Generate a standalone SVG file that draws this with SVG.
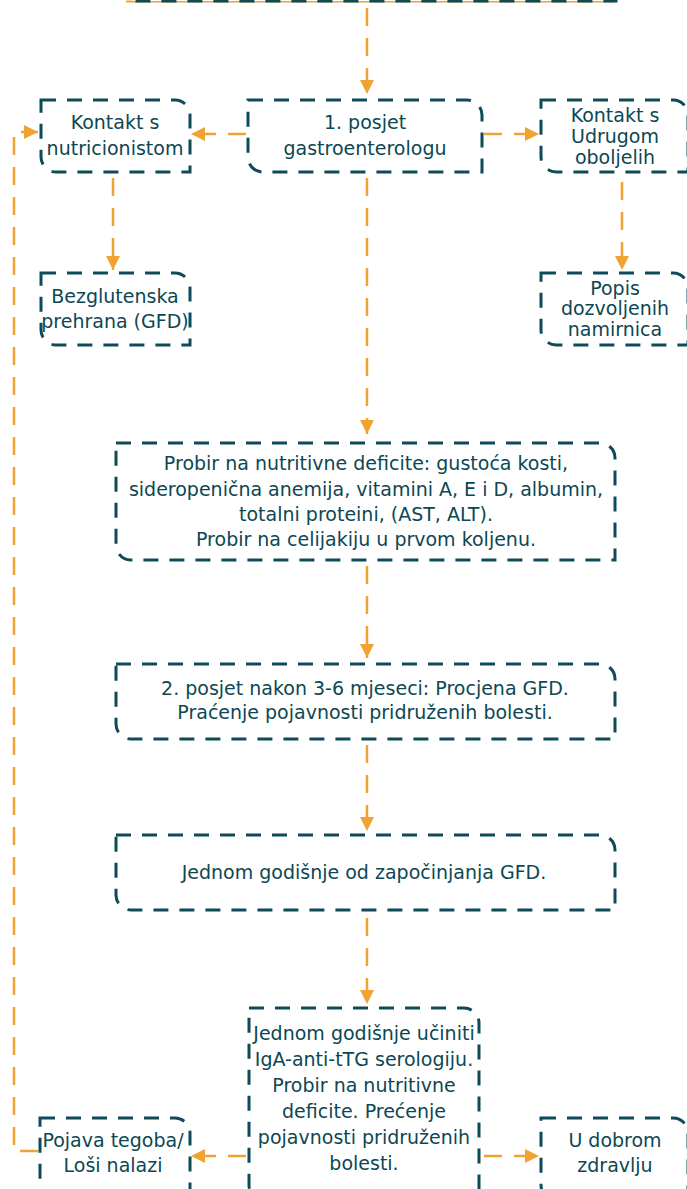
<svg xmlns="http://www.w3.org/2000/svg" width="687" height="1189" viewBox="0 0 687 1189">
<defs>
<style>
.box{fill:#ffffff;stroke:#0d4b58;stroke-width:3;stroke-dasharray:15 11;}
.lbl{font-family:"DejaVu Sans","Liberation Sans",sans-serif;font-size:19px;fill:#0c4753;text-anchor:middle;}
.con{fill:none;stroke:#f0a232;stroke-width:2.5;stroke-dasharray:18 12;}
</style>
<marker id="ah" viewBox="0 0 14 14" refX="14" refY="7" markerWidth="14" markerHeight="14" markerUnits="userSpaceOnUse" orient="auto">
<path d="M0,0 L14,7 L0,14 Z" fill="#f0a232"/>
</marker>
</defs>
<rect width="687" height="1189" fill="#ffffff"/>

<g id="connectors">
<path class="con" d="M367,8 V94" marker-end="url(#ah)"/>
<path class="con" d="M246,134 H191" marker-end="url(#ah)"/>
<path class="con" d="M484,134 H539" marker-end="url(#ah)"/>
<path class="con" d="M113,178 V270" marker-end="url(#ah)"/>
<path class="con" d="M622,182 V270" marker-end="url(#ah)"/>
<path class="con" d="M367,178 V434" marker-end="url(#ah)"/>
<path class="con" d="M367,566 V658" marker-end="url(#ah)"/>
<path class="con" d="M367,745 V831" marker-end="url(#ah)"/>
<path class="con" d="M367,918 V1004" marker-end="url(#ah)"/>
<path class="con" d="M246,1156 H191" marker-end="url(#ah)"/>
<path class="con" d="M484,1156 H539" marker-end="url(#ah)"/>
<path class="con" d="M38,1151 H14 V132 H38" marker-end="url(#ah)"/>
</g>

<g id="n0">
<line x1="126" y1="1.5" x2="614" y2="1.5" stroke="#f0a232" stroke-width="2"/>
<path class="box" d="M122,-60 H601 A15,15 0 0 1 616,-45 V1 H137 A15,15 0 0 1 122,-14 Z"/>
</g>

<g id="n1">
<path class="box" d="M248,100 H467 A15,15 0 0 1 482,115 V172 H263 A15,15 0 0 1 248,157 Z"/>
<text class="lbl" x="365"><tspan x="365" y="129">1. posjet</tspan><tspan x="365" y="155">gastroenterologu</tspan></text>
</g>

<g id="n2">
<path class="box" d="M41,100 H175 A15,15 0 0 1 190,115 V172 H56 A15,15 0 0 1 41,157 Z"/>
<text class="lbl" x="115"><tspan x="115" y="129">Kontakt s</tspan><tspan x="115" y="155">nutricionistom</tspan></text>
</g>

<g id="n3">
<path class="box" d="M541,100 H673 A15,15 0 0 1 688,115 V172 H556 A15,15 0 0 1 541,157 Z"/>
<text class="lbl" x="615"><tspan x="615" y="122">Kontakt s</tspan><tspan x="615" y="143">Udrugom</tspan><tspan x="615" y="164">oboljelih</tspan></text>
</g>

<g id="n4">
<path class="box" d="M41,273 H175 A15,15 0 0 1 190,288 V345 H56 A15,15 0 0 1 41,330 Z"/>
<text class="lbl" x="115"><tspan x="115" y="303">Bezglutenska</tspan><tspan x="115" y="328">prehrana (GFD)</tspan></text>
</g>

<g id="n5">
<path class="box" d="M541,273 H673 A15,15 0 0 1 688,288 V345 H556 A15,15 0 0 1 541,330 Z"/>
<text class="lbl" x="615"><tspan x="615" y="295">Popis</tspan><tspan x="615" y="315">dozvoljenih</tspan><tspan x="615" y="336">namirnica</tspan></text>
</g>

<g id="n6">
<path class="box" d="M116,443 H600 A15,15 0 0 1 615,458 V560 H131 A15,15 0 0 1 116,545 Z"/>
<text class="lbl" x="366"><tspan x="366" y="470">Probir na nutritivne deficite: gustoća kosti,</tspan><tspan x="366" y="496">sideropenična anemija, vitamini A, E i D, albumin,</tspan><tspan x="366" y="521">totalni proteini, (AST, ALT).</tspan><tspan x="366" y="546">Probir na celijakiju u prvom koljenu.</tspan></text>
</g>

<g id="n7">
<path class="box" d="M116,664 H600 A15,15 0 0 1 615,679 V739 H131 A15,15 0 0 1 116,724 Z"/>
<text class="lbl" x="365"><tspan x="365" y="695">2. posjet nakon 3-6 mjeseci: Procjena GFD.</tspan><tspan x="365" y="719">Praćenje pojavnosti pridruženih bolesti.</tspan></text>
</g>

<g id="n8">
<path class="box" d="M116,835 H600 A15,15 0 0 1 615,850 V910 H131 A15,15 0 0 1 116,895 Z"/>
<text class="lbl" x="364" y="879">Jednom godišnje od započinjanja GFD.</text>
</g>

<g id="n9">
<path class="box" d="M249,1008 H464 A15,15 0 0 1 479,1023 V1200 H264 A15,15 0 0 1 249,1185 Z"/>
<text class="lbl" x="364"><tspan x="364" y="1040">Jednom godišnje učiniti</tspan><tspan x="364" y="1066">IgA-anti-tTG serologiju.</tspan><tspan x="364" y="1092">Probir na nutritivne</tspan><tspan x="364" y="1118">deficite. Prećenje</tspan><tspan x="364" y="1144">pojavnosti pridruženih</tspan><tspan x="364" y="1170">bolesti.</tspan></text>
</g>

<g id="n10">
<path class="box" d="M40,1118 H175 A15,15 0 0 1 190,1133 V1200 H55 A15,15 0 0 1 40,1185 Z"/>
<text class="lbl" x="113"><tspan x="113" y="1147">Pojava tegoba/</tspan><tspan x="113" y="1172">Loši nalazi</tspan></text>
</g>

<g id="n11">
<path class="box" d="M541,1118 H673 A15,15 0 0 1 688,1133 V1200 H556 A15,15 0 0 1 541,1185 Z"/>
<text class="lbl" x="615"><tspan x="615" y="1147">U dobrom</tspan><tspan x="615" y="1172">zdravlju</tspan></text>
</g>
</svg>
